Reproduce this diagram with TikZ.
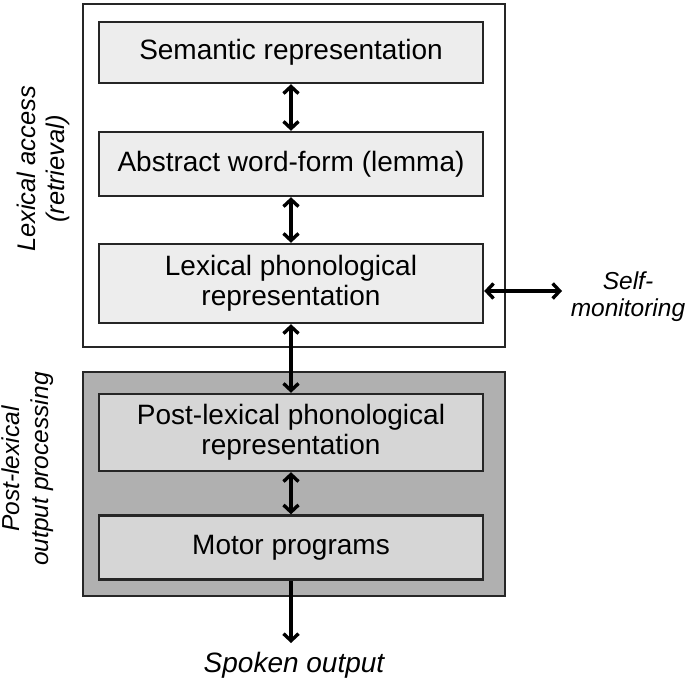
\documentclass[tikz,border=0pt]{standalone}
\usepackage{fontspec}
\setmainfont{Liberation Sans}
\usetikzlibrary{arrows.meta}
\begin{document}
\begin{tikzpicture}[x=1pt,y=-1pt,
  every node/.style={font=\fontsize{28}{30}\selectfont, align=center, inner sep=0pt},
  topbox/.style={draw=black!85, line width=2.4pt, fill=black!7, minimum width=384pt},
  lowbox/.style={draw=black!85, line width=2.4pt, fill=black!16, minimum width=384pt},
  frame/.style={draw=black!85, line width=2.4pt, minimum width=422pt},
  conn/.style={line width=3.4pt, -{Straight Barb[length=7pt,width=15pt]}},
  dconn/.style={line width=3.4pt, {Straight Barb[length=7pt,width=15pt]}-{Straight Barb[length=7pt,width=15pt]}},
  side/.style={rotate=90}]
\useasboundingbox (0,0) rectangle (689,685);
\node[frame, fill=white, minimum height=343pt] (outer) at (294,175.5) {};
\node[frame, fill=black!31, minimum height=224pt] (gray) at (294,484) {};
\node[topbox, minimum height=61pt] (sem) at (291,52.5) {Semantic representation};
\node[topbox, minimum height=64pt] (abs) at (291,164) {Abstract word-form (lemma)};
\node[topbox, minimum height=79pt] (lex) at (291,283.5) {Lexical phonological\\representation};
\node[lowbox, minimum height=77pt] (post) at (291,432.5) {Post-lexical phonological\\representation};
\node[lowbox, minimum height=64pt] (motor) at (291,547.5) {Motor programs};
\node[font=\fontsize{28}{30}\selectfont\itshape] (spoken) at (294,665) {Spoken output};
\node[font=\fontsize{24.5}{27}\selectfont\itshape] (self) at (628,297) {Self-\\monitoring};
\node[side, font=\fontsize{25.5}{29}\selectfont\itshape] (lexacc) at (43,169) {Lexical access\\(retrieval)};
\node[side, font=\fontsize{24.5}{29}\selectfont\itshape] (postlab) at (28,469) {Post-lexical\\output processing};
\coordinate (sm) at (562,291);
\coordinate (sp) at (291,643);
\draw[dconn] (sem.south) -- (abs.north);
\draw[dconn] (abs.south) -- (lex.north);
\draw[dconn] (lex.south) -- (post.north);
\draw[dconn] (post.south) -- (motor.north);
\draw[conn] (motor.south) -- (sp);
\draw[dconn] (lex.east |- sm) -- (sm);
\end{tikzpicture}
\end{document}
